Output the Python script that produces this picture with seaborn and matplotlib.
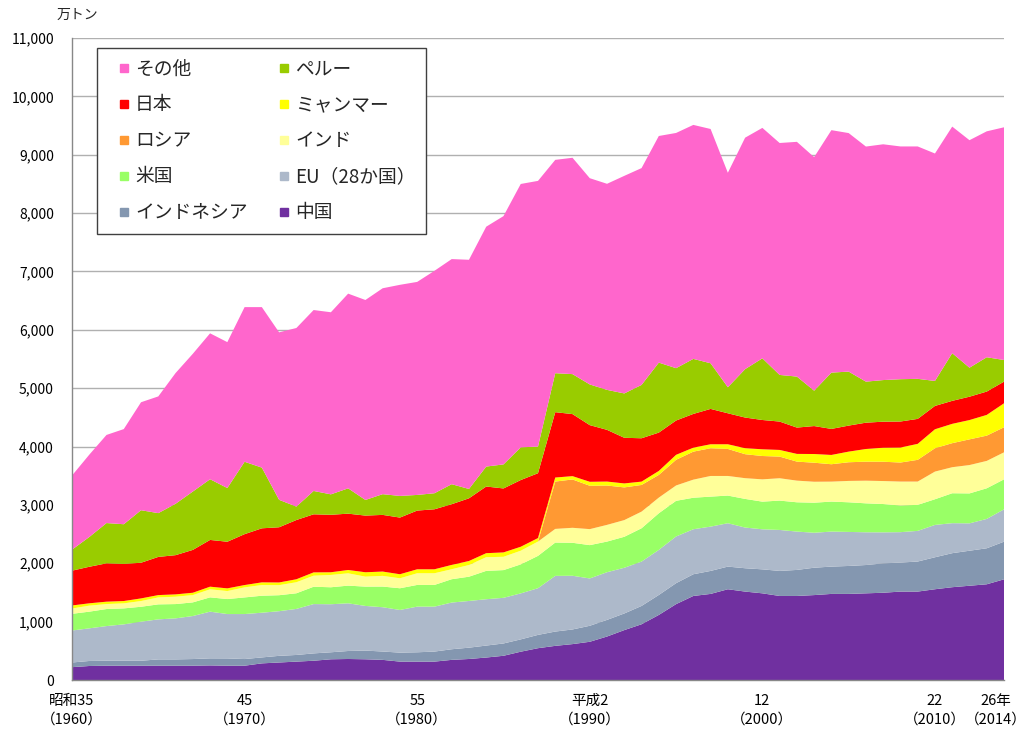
import matplotlib
matplotlib.use("Agg")
import matplotlib.pyplot as plt
import matplotlib.ticker as mticker
from matplotlib.lines import Line2D
from matplotlib.transforms import ScaledTranslation
import seaborn as sns
import pandas as pd

years = list(range(1960, 2015))

china = [220,240,245,245,245,245,245,245,250,245, 245,285,300,315,330,355,360,355,345,315,
         315,315,345,360,385,415,485,545,585,615, 655,745,855,955,1115,1300,1440,1475,1555,1515,
         1485,1440,1440,1455,1475,1475,1485,1495,1515,1515, 1555,1590,1615,1640,1725]
indonesia = [80,86,85,85,85,108,108,114,121,125, 114,102,114,114,126,120,137,149,143,154,
             160,172,182,194,205,211,211,228,245,251, 274,285,285,314,342,359,372,394,388,400,
             411,429,446,469,468,479,485,503,497,515, 548,583,600,617,645]
eu = [548,559,594,623,669,686,703,737,800,760, 771,766,765,789,845,823,817,765,759,731,
      782,770,800,800,794,782,788,800,954,920, 811,817,783,760,772,800,771,759,743,697,
      686,702,657,599,600,583,561,532,521,525, 554,514,469,503,554]
usa = [286,286,292,274,256,257,245,234,245,257, 285,291,274,268,297,291,303,331,354,372,
       372,372,400,416,486,475,497,554,571,565, 571,525,531,571,628,611,540,514,474,491,
       474,503,502,515,514,508,496,485,456,446, 440,513,513,525,514]
india = [91,103,85,86,98,119,126,125,138,137, 172,183,172,189,189,211,211,171,183,171,
         200,200,171,200,234,228,234,245,234,257, 274,286,286,285,268,263,310,354,336,355,
         382,383,371,359,342,366,388,394,411,399, 474,446,486,469,463]
russia = [0]*28 + [811,828, 743,674,560,457,389,440,480,475,463,411,
                   400,371,326,326,298,320,326,331,326,372, 400,412,440,433,429]
myanmar = [52,40,41,40,45,40,40,40,45,46, 40,46,46,51,57,46,57,75,74,69,
           68,68,74,69,69,75,68,60,69,57, 68,68,68,57,68,85,68,68,80,103,
           115,114,132,149,159,182,217,240,257,274, 325,331,331,355,411]
japan = [596,626,657,636,611,654,672,734,801,799, 872,926,946,1015,995,985,965,971,971,971,
         1006,1028,1040,1074,1142,1096,1143,1111,1120,1063, 971,886,782,743,657,588,578,606,531,525,
         502,486,451,479,446,446,451,446,446,428, 400,394,400,400,371]
peru = [360,510,690,680,900,750,880,1000,1040,920, 1240,1040,470,230,400,350,434,268,355,371,
        268,275,343,160,342,412,560,457,668,685, 697,685,760,914,1199,897,943,782,446,829,
        1057,799,874,606,965,925,703,713,725,686, 428,817,497,588,371]
other = [1270,1410,1510,1630,1850,2000,2240,2360,2500,2500, 2650,2750,2870,3060,3100,3120,3336,3426,3528,3617,
         3650,3811,3857,3927,4110,4254,4513,4552,3655,3707, 3534,3531,3728,3715,3883,4030,4009,4014,3675,3966,
         3948,3974,4022,4002,4154,4087,4028,4040,3988,3982, 3897,3882,3898,3871,3987]

series_names = ["中国", "インドネシア", "EU（28か国）", "米国", "インド", "ロシア", "ミャンマー", "日本", "ペルー", "その他"]
series_colors = ["#7030A0", "#8497B0", "#ADB9CA", "#99FF66", "#FFFF99", "#FF9933", "#FFFF00", "#FF0000", "#99CC00", "#FF66CC"]

tick_years = [1960, 1970, 1980, 1990, 2000, 2010, 2014]
tick_labels = ["昭和35\n（1960）", "45\n（1970）", "55\n（1980）", "平成2\n（1990）", "12\n（2000）", "22\n（2010）", "26年\n（2014）"]

df = pd.DataFrame({"year": years, "中国": china, "インドネシア": indonesia, "EU（28か国）": eu,
                   "米国": usa, "インド": india, "ロシア": russia, "ミャンマー": myanmar,
                   "日本": japan, "ペルー": peru, "その他": other})

sns.set_theme(style="white")
plt.rcParams['font.family'] = ['Noto Sans CJK JP', 'DejaVu Sans']

fig = plt.figure(figsize=(10.27, 7.31), dpi=100)
ax = fig.add_axes([72/1027, 1-680/731, 932/1027, 642/731])

polys = ax.stackplot(df["year"], [df[n] for n in series_names], colors=series_colors,
                     labels=series_names, linewidth=0, edgecolor="none")

ax.set_xlim(1960, 2014)
ax.set_ylim(0, 11000)
ax.set_yticks(range(0, 11001, 1000))
ax.yaxis.set_major_formatter(mticker.FuncFormatter(lambda v, p: f"{int(v):,}"))
ax.set_xticks(tick_years)
ax.set_xticklabels(tick_labels, linespacing=1.4)
ax.tick_params(axis="y", length=0, pad=13, labelsize=10, colors="#000000")
ax.tick_params(axis="x", length=0, pad=10, labelsize=10.5, colors="#000000")
ax.grid(axis="y", color="#b0b0b0", linewidth=1)
ax.set_axisbelow(True)
for s in ["top", "right"]:
    ax.spines[s].set_visible(False)
ax.spines["left"].set_color("#888888")
ax.spines["bottom"].set_color("#888888")
ax.spines["left"].set_linewidth(1)
ax.spines["bottom"].set_linewidth(1)

last = ax.get_xticklabels()[-1]
last.set_transform(last.get_transform() + ScaledTranslation(-6/72, 0, fig.dpi_scale_trans))

fig.text(77/1027, 1-15/731, "万トン", ha="center", va="center", fontsize=10)

color_of = dict(zip(series_names, series_colors))
order = ["その他", "日本", "ロシア", "米国", "インドネシア", "ペルー", "ミャンマー", "インド", "EU（28か国）", "中国"]
leg_handles = [Line2D([], [], linestyle="none", marker="s", markersize=6, markerfacecolor=color_of[n],
                      markeredgecolor=color_of[n]) for n in order]
leg = ax.legend(leg_handles, order, loc="upper left",
                bbox_to_anchor=(25/932, 632/642), borderaxespad=0, ncol=2,
                fontsize=13.5, frameon=True, fancybox=False, framealpha=1,
                edgecolor="#404040", handlelength=1.8, handletextpad=-0.32,
                labelspacing=0.8, columnspacing=1.05, borderpad=0.55)
leg.get_frame().set_linewidth(1.0)

fig.savefig("out.png", dpi=100)
